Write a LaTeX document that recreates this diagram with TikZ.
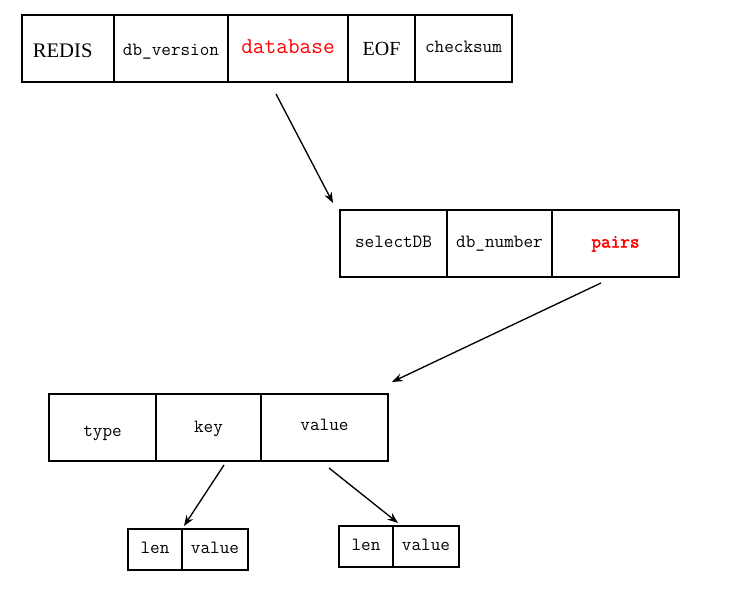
\documentclass[tikz,border=0pt]{standalone}
\usepackage{fontspec}
\setmainfont{Liberation Serif}
\newfontfamily\boldmono[FakeBold=2.5]{Latin Modern Mono}
\usetikzlibrary{positioning,arrows.meta}

\begin{document}
\begin{tikzpicture}[x=0.75pt, y=-0.75pt, >={Stealth[length=8pt,width=6pt]},
        cell/.style={draw, line width=1.2pt, inner sep=0pt, outer sep=0pt,
                minimum height=67*0.75pt, text height=7pt, text depth=1pt,
                font=\ttfamily\fontsize{14}{16}\selectfont},
        smallcell/.style={cell, minimum height=41*0.75pt},
        link/.style={line width=1pt, ->}]
        \useasboundingbox (0,0) rectangle (731,602);

        % rdb file
        \node[cell, anchor=north west, minimum width=92*0.75pt, font=\fontsize{15.5}{18}\selectfont] (redis) at (22,15) {\hspace*{-8pt}\raisebox{-4pt}{REDIS}};
        \node[cell, right=0pt of redis, minimum width=114*0.75pt] (version) {\raisebox{-2pt}{db\_version}};
        \node[cell, right=0pt of version, minimum width=120*0.75pt, text=red, font=\ttfamily\fontsize{17}{19}\selectfont] (database) {\raisebox{-1pt}{database}};
        \node[cell, right=0pt of database, minimum width=67*0.75pt, font=\fontsize{15}{18}\selectfont] (eof) {\raisebox{-2pt}{EOF}};
        \node[cell, right=0pt of eof, minimum width=97*0.75pt] (checksum) {checksum};

        % database
        \node[cell, anchor=north west, minimum width=107*0.75pt] (select) at (340,210) {selectDB};
        \node[cell, right=0pt of select, minimum width=105*0.75pt] (number) {db\_number};
        \node[cell, right=0pt of number, minimum width=127*0.75pt, text=red, font=\boldmono\fontsize{14}{16}\selectfont] (pairs) {pairs};

        % key-value pair
        \node[cell, anchor=north west, minimum width=107*0.75pt] (type) at (49,394) {\raisebox{-4pt}{type}};
        \node[cell, right=0pt of type, minimum width=105*0.75pt] (key) {\raisebox{-1pt}{key}};
        \node[cell, right=0pt of key, minimum width=127*0.75pt] (value) {\raisebox{1pt}{value}};

        \node[smallcell, anchor=north west, minimum width=54*0.75pt] (keylen) at (128,529) {len};
        \node[smallcell, right=0pt of keylen, minimum width=66*0.75pt] (keyval) {value};
        \node[smallcell, anchor=north west, minimum width=54*0.75pt] (vallen) at (339,526) {len};
        \node[smallcell, right=0pt of vallen, minimum width=66*0.75pt] (valval) {value};

        \draw[link] ([shift={(-12,12)}]database.south) to ([shift={(-7,-7)}]select.north west);
        \draw[link] ([shift={(-14.5,6)}]pairs.south) to ([shift={(4,-12)}]value.north east);
        \draw[link] ([shift={(15.5,4)}]key.south) to ([shift={(2,-3)}]keylen.north east);
        \draw[link] ([shift={(4.5,7)}]value.south) to ([shift={(5,-3)}]vallen.north east);
\end{tikzpicture}
\end{document}
